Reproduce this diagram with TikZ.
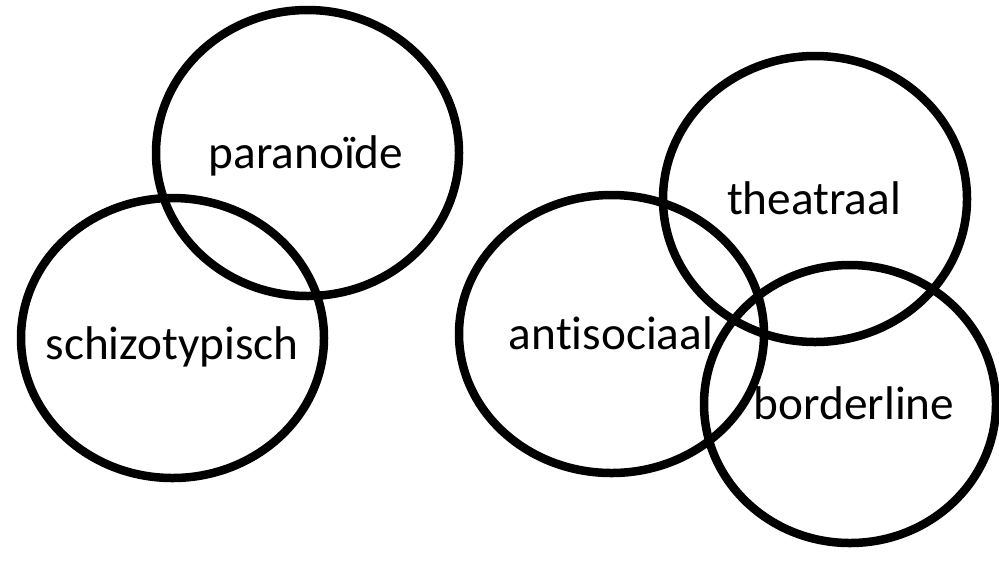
\documentclass[tikz,border=0pt]{standalone}
\usepackage{fontspec}
\setmainfont{Carlito}[Ligatures=NoCommon]
\usepackage{tikz}
\usetikzlibrary{positioning}

\tikzset{
  ring/.style={draw=black, line width=0.17cm},
  lbl/.style={font=\fontsize{26.9}{32}\selectfont, anchor=base, inner sep=0pt}
}

\begin{document}
\begin{tikzpicture}[x=0.02cm, y=-0.02cm]
  \useasboundingbox (0,0) rectangle (999,569);
  % cluster A
  \foreach \cx/\cy/\rx/\ry/\tx/\by/\nm/\txt in {
      307.5/153/151.5/143/306/168/paranoide/paranoïde,
      172.5/338/151.5/140/172/359/schizotypisch/schizotypisch}{
    \draw[ring] (\cx,\cy) ellipse ({\rx} and {\ry});
    \node[lbl] (\nm) at (\tx,\by) {\txt};
  }
  % cluster B
  \foreach \cx/\cy/\rx/\ry/\tx/\by/\nm/\txt in {
      815/199/152/143/814/214/theatraal/theatraal,
      611.5/334/152.5/139/611/349/antisociaal/antisociaal,
      850/404/146/139/854/419/borderline/borderline}{
    \draw[ring] (\cx,\cy) ellipse ({\rx} and {\ry});
    \node[lbl] (\nm) at (\tx,\by) {\txt};
  }
\end{tikzpicture}
\end{document}
